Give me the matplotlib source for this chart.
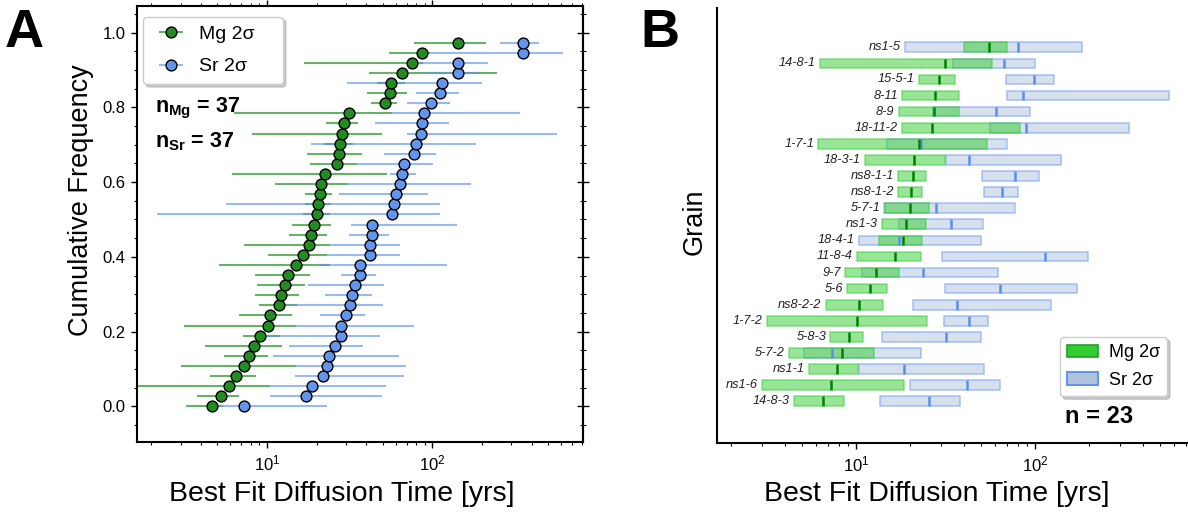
import numpy as np
import matplotlib
matplotlib.use("Agg")
import matplotlib.pyplot as plt
from matplotlib.patches import Patch
from matplotlib.ticker import MultipleLocator
from matplotlib.container import ErrorbarContainer
from matplotlib.legend_handler import HandlerErrorbar

plt.rcParams['font.family'] = ['Liberation Sans', 'DejaVu Sans']
plt.rcParams['mathtext.fontset'] = 'custom'
plt.rcParams['mathtext.rm'] = 'Liberation Sans'
plt.rcParams['mathtext.it'] = 'Liberation Sans:italic'
plt.rcParams['mathtext.bf'] = 'Liberation Sans:bold'

# ---- panel A: cumulative distribution of best fit times (sorted) ----
mg_best = [4.67, 5.27, 5.92, 6.52, 7.26, 7.78, 8.34, 9.07, 10.1, 10.4, 11.9, 12.15,
           12.9, 13.4, 15.0, 16.5, 17.9, 18.4, 19.2, 20.1, 20.4, 20.8, 21.1, 22.5,
           26.5, 27.1, 27.5, 28.6, 29.1, 31.3, 51.5, 55.2, 56.5, 65.3, 75.4, 86.3, 143.8]
mg_lo = [3.24, 3.79, 1.6, 4.52, 3.0, 5.47, 4.22, 7.19, 3.16, 6.80, 8.9, 8.5,
         8.74, 8.46, 5.15, 10.1, 7.29, 13.6, 14.1, 16.5, 17.0, 17.1, 11.2, 6.17,
         18.2, 17.4, 22.0, 8.08, 22.7, 6.34, 42.4, 40.5, 46.0, 41.6, 16.8, 55.0, 77.9]
mg_hi = [5.44, 6.74, 10.4, 8.54, 15.0, 10.1, 12.4, 12.0, 14.9, 14.1, 15.1, 15.7,
         17.1, 18.3, 24.0, 23.0, 24.0, 23.2, 24.3, 24.0, 24.5, 24.6, 31.0, 52.9,
         34.9, 37.4, 33.0, 49.4, 35.7, 56.8, 60.9, 70.0, 68.0, 245, 88.3, 96.9, 210]

sr_best = [7.29, 17.2, 18.6, 21.9, 23.2, 23.8, 25.8, 28.0, 28.2, 30.1, 31.9, 32.7,
           34.2, 36.5, 36.6, 41.8, 42.0, 43.2, 43.4, 56.8, 58.4, 60.3, 64.1, 65.9,
           67.4, 77.5, 79.7, 85.9, 86.1, 88.7, 98.7, 111.8, 114.5, 142.4, 142.6, 352, 353]
sr_lo = [4.96, 10.4, 10.4, 14.8, 15.0, 10.9, 13.6, 8.66, 14.9, 21.0, 13.8, 22.4,
         17.8, 27.9, 20.9, 23.0, 24.0, 31.3, 32.2, 2.17, 5.65, 27.1, 31.0, 55.5,
         34.9, 51.0, 18.5, 70.0, 45.0, 56.8, 70.0, 79.3, 30.3, 91.2, 76.8, 96.9, 257]
sr_hi = [23.0, 49.9, 52.2, 67.4, 69.6, 62.6, 37.9, 48.3, 77.5, 39.0, 50.1, 43.2,
         51.0, 45.4, 122, 64.1, 64.1, 54.7, 141, 111.3, 111.3, 93.8, 171, 79.7,
         100.5, 104.8, 183, 565, 126.8, 339, 128, 145, 199, 194, 216, 615, 444]

# ---- panel B: per grain ranges ----
grains = ['ns1-5', '14-8-1', '15-5-1', '8-11', '8-9', '18-11-2', '1-7-1', '18-3-1',
          'ns8-1-1', 'ns8-1-2', '5-7-1', 'ns1-3', '18-4-1', '11-8-4', '9-7', '5-6',
          'ns8-2-2', '1-7-2', '5-8-3', '5-7-2', 'ns1-1', 'ns1-6', '14-8-3']
grain_mg_best = [55.1, 31.6, 29.1, 27.7, 27.3, 26.5, 22.4, 21.0, 20.7, 20.2, 20.0, 19.1,
                 18.4, 16.6, 12.9, 11.9, 10.4, 10.1, 9.1, 8.35, 7.8, 7.25, 6.54]
grain_mg_lo = [40.0, 6.29, 22.5, 18.1, 17.3, 18.1, 6.16, 11.2, 17.2, 17.2, 14.5, 14.0,
               13.4, 10.1, 8.72, 8.91, 6.77, 3.18, 7.19, 4.21, 5.46, 3.0, 4.5]
grain_mg_hi = [70.1, 57.3, 35.7, 37.6, 37.6, 82.4, 53.7, 31.3, 24.7, 23.3, 25.7, 24.5,
               23.3, 23.0, 17.3, 15.0, 14.1, 25.0, 11.0, 12.6, 10.2, 18.5, 8.57]
grain_sr_best = [80.0, 67.1, 98.3, 85.3, 60.3, 89.1, 23.0, 43.0, 77.3, 65.7, 28.0, 34.1,
                 17.3, 113.2, 23.8, 63.8, 36.5, 42.8, 31.8, 7.31, 18.5, 41.7, 25.7]
grain_sr_lo = [18.7, 35.0, 68.9, 69.8, 27.0, 56.3, 14.9, 31.8, 50.8, 52.1, 14.4, 17.5,
               10.4, 30.2, 10.8, 31.3, 20.8, 31.2, 13.9, 5.14, 10.4, 20.1, 13.6]
grain_sr_hi = [183.9, 100, 128.2, 563, 93.4, 336.5, 69.5, 140.4, 104.8, 80.0, 77.3, 51.0,
               49.9, 198.6, 62.4, 171, 122.4, 54.6, 49.9, 23.0, 52.1, 64.0, 37.9]


fig = plt.figure(figsize=(11.88, 5.16), dpi=100)
ax1 = fig.add_axes([0.1151, 0.1428, 0.3754, 0.8456])
ax2 = fig.add_axes([0.6038, 0.1409, 0.3962, 0.8436])

# panel A
n = len(mg_best)
freq = np.arange(n) / n
mgb, mgl, mgh = np.array(mg_best), np.array(mg_lo), np.array(mg_hi)
srb, srl, srh = np.array(sr_best), np.array(sr_lo), np.array(sr_hi)

ax1.errorbar(mgb, freq, xerr=[mgb - mgl, mgh - mgb], fmt='o', ms=7.8,
             mfc='forestgreen', mec='black', mew=1.0,
             ecolor=(0.0, 0.5, 0.0, 0.6), elinewidth=1.5, capsize=0, label='Mg 2σ')
ax1.errorbar(srb, freq, xerr=[srb - srl, srh - srb], fmt='o', ms=7.8,
             mfc='cornflowerblue', mec='black', mew=1.0,
             ecolor=(0.39, 0.58, 0.93, 0.65), elinewidth=1.5, capsize=0, label='Sr 2σ')

ax1.set_xscale('log')
ax1.set_xlim(1.63, 813)
ax1.set_ylim(-0.096, 1.071)
ax1.yaxis.set_major_locator(MultipleLocator(0.2))
ax1.yaxis.set_minor_locator(MultipleLocator(0.05))
ax1.tick_params(which='both', direction='out', top=True, right=False, labelsize=12)
ax1.tick_params(which='major', length=4.5, width=1)
ax1.tick_params(which='minor', length=2.5, width=0.8)
for s in ax1.spines.values():
    s.set_linewidth(1.5)

# right side ticks cross the frame
sec = ax1.secondary_yaxis('right')
sec.yaxis.set_major_locator(MultipleLocator(0.2))
sec.yaxis.set_minor_locator(MultipleLocator(0.05))
sec.tick_params(which='both', direction='inout', labelright=False)
sec.tick_params(which='major', length=8, width=1)
sec.tick_params(which='minor', length=5, width=0.8)
sec.spines['right'].set_linewidth(1.5)

ax1.set_xlabel('Best Fit Diffusion Time [yrs]', fontsize=20.5)
ax1.set_ylabel('Cumulative Frequency', fontsize=19.5)
ax1.xaxis.set_label_coords(0.460, -0.088)
ax1.yaxis.set_label_coords(-0.0964, 0.555)

ax1.legend(loc='upper left', bbox_to_anchor=(0.0141, 0.0, 0.314, 0.975), mode='expand',
           borderaxespad=0, fontsize=14, fancybox=True, framealpha=1, edgecolor='0.8',
           shadow={'color': '0.6', 'alpha': 0.5}, borderpad=0.45,
           labelspacing=0.75, handletextpad=0.45,
           handler_map={ErrorbarContainer: HandlerErrorbar(xerr_size=0.62)})

ax1.text(0.041, 0.755, r'n$_{\mathbf{Mg}}$ = 37', transform=ax1.transAxes,
         fontsize=15.5, fontweight='bold', va='baseline', ha='left')
ax1.text(0.041, 0.675, r'n$_{\mathbf{Sr}}$ = 37', transform=ax1.transAxes,
         fontsize=15.5, fontweight='bold', va='baseline', ha='left')

# panel B
ng = len(grains)
ypos = np.arange(ng)[::-1]
h = 0.6
gmb, gml, gmh = np.array(grain_mg_best), np.array(grain_mg_lo), np.array(grain_mg_hi)
gsb, gsl, gsh = np.array(grain_sr_best), np.array(grain_sr_lo), np.array(grain_sr_hi)

ax2.barh(ypos, gsh - gsl, left=gsl, height=h, color='lightsteelblue',
         edgecolor='cornflowerblue', alpha=0.5, lw=1.2)
ax2.barh(ypos, gmh - gml, left=gml, height=h, color='limegreen',
         edgecolor='limegreen', alpha=0.5, lw=1.2)
ax2.vlines(gsb, ypos - h / 2, ypos + h / 2, color='#5b8def', lw=1.8, zorder=3)
ax2.vlines(gmb, ypos - h / 2, ypos + h / 2, color='green', lw=1.8, zorder=3)

for name, y, lo in zip(grains, ypos, np.minimum(gml, gsl)):
    ax2.annotate(name, xy=(lo, y), xytext=(-3, 0), textcoords='offset points',
                 ha='right', va='center', fontsize=9.2, style='italic', color='#222222')

ax2.set_xscale('log')
ax2.set_xlim(1.68, 716)
ax2.set_ylim(-2.61, 24.44)
ax2.set_yticks([])
ax2.spines['top'].set_visible(False)
ax2.spines['right'].set_visible(False)
ax2.spines['left'].set_linewidth(1.5)
ax2.spines['bottom'].set_linewidth(1.5)
ax2.tick_params(which='both', direction='out', labelsize=12)
ax2.tick_params(which='major', length=4.5, width=1)
ax2.tick_params(which='minor', length=2.5, width=0.8)
ax2.set_xlabel('Best Fit Diffusion Time [yrs]', fontsize=20.5)
ax2.set_ylabel('Grain', fontsize=19.5)
ax2.xaxis.set_label_coords(0.466, -0.0866)
ax2.yaxis.set_label_coords(-0.0204, 0.508)

handles = [Patch(facecolor='limegreen', edgecolor='#22a022', lw=1.2, label='Mg 2σ'),
           Patch(facecolor='lightsteelblue', edgecolor='cornflowerblue', lw=1.5, label='Sr 2σ')]
ax2.legend(handles=handles, loc='upper left', bbox_to_anchor=(0.728, 0.244),
           borderaxespad=0, fontsize=13, fancybox=True, framealpha=1, edgecolor='0.8',
           shadow={'color': '0.6', 'alpha': 0.5}, handlelength=1.7, handletextpad=0.6,
           labelspacing=0.6)
ax2.text(0.739, 0.047, 'n = 23', transform=ax2.transAxes, fontsize=17,
         fontweight='bold', va='baseline', ha='left')

fig.text(5 / 1188, 1 - 8 / 516, 'A', fontsize=39, fontweight='bold', va='top', ha='left')
fig.text(640 / 1188, 1 - 8 / 516, 'B', fontsize=39, fontweight='bold', va='top', ha='left')

fig.savefig('out.png', dpi=100)
